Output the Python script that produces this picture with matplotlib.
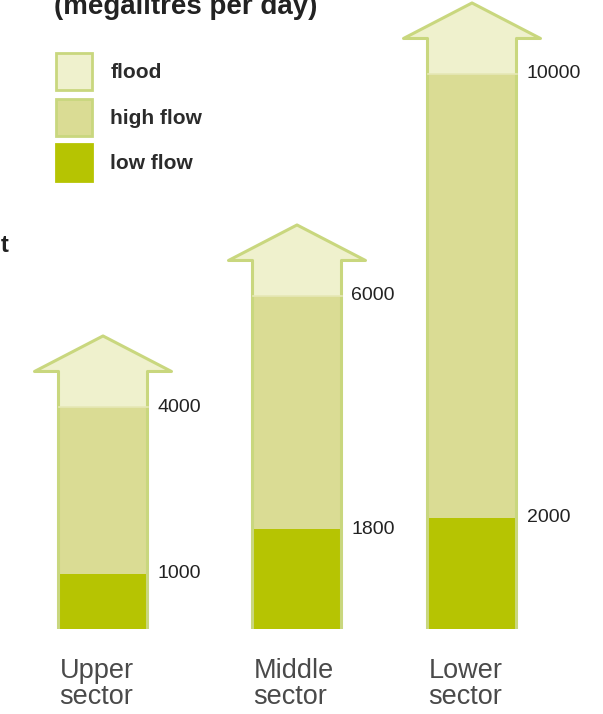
import matplotlib.pyplot as plt
from matplotlib.patches import Polygon, Patch

# data (megalitres per day)
sectors = ['Upper\nsector', 'Middle\nsector', 'Lower\nsector']
low_flow = [1000, 1800, 2000]
high_flow = [4000, 6000, 10000]
legend_labels = ['flood', 'high flow', 'low flow']

# colours
c_low = '#b6c402'
c_high = '#dadc94'
c_flood = '#eff1cd'
c_edge = '#c9d77e'

# layout (pixels across, flow units up)
x_pos = [103, 297, 472]
shaft_w = 89
wing_w = 137
flood_ext = 640
head_h = 640
px_per_unit = 0.0555
base_px = 629

W, H = 603, 714
fig = plt.figure(figsize=(W / 100, H / 100), dpi=100, facecolor='white')
ax = fig.add_axes([0, 0, 1, 1])
ax.set_xlim(0, W)
ax.set_ylim(-(H - base_px) / px_per_unit, base_px / px_per_unit)
ax.axis('off')

font = 'Liberation Sans'

for x, lo, hi, name in zip(x_pos, low_flow, high_flow, sectors):
    top = hi + flood_ext
    ax.bar(x, lo, width=shaft_w, color=c_low, linewidth=0)
    ax.bar(x, hi - lo, bottom=lo, width=shaft_w, color=c_high, linewidth=0)
    ax.bar(x, flood_ext, bottom=hi, width=shaft_w, color=c_flood, linewidth=0)
    # arrow head
    head = Polygon([(x - wing_w / 2, top), (x + wing_w / 2, top), (x, top + head_h)],
                   closed=True, facecolor=c_flood, edgecolor='none')
    ax.add_patch(head)
    # outline of the whole arrow
    l, r = x - shaft_w / 2, x + shaft_w / 2
    outline = Polygon([(l, 0), (l, top), (x - wing_w / 2, top), (x, top + head_h),
                       (x + wing_w / 2, top), (r, top), (r, 0)],
                      closed=False, facecolor='none', edgecolor=c_edge, lw=2.2,
                      joinstyle='round')
    ax.add_patch(outline)
    ax.plot([l, r], [hi, hi], color='#e6e8b6', lw=1.2)
    # value labels
    for v in (lo, hi):
        ax.text(r + 10, v, str(v), ha='left', va='center', fontsize=14,
                family=font, color='#222222')
    ax.text(l + 1, -520, name, ha='left', va='top', fontsize=19.5,
            family=font, color='#4a4a4a', linespacing=1.02)

# legend
handles = [Patch(facecolor=c_flood, edgecolor=c_edge, lw=2),
           Patch(facecolor=c_high, edgecolor=c_edge, lw=2),
           Patch(facecolor=c_low, edgecolor=c_low, lw=2)]
leg = ax.legend(handles, legend_labels, loc='upper left',
                bbox_to_anchor=(56 / W, 1 - 53 / H), bbox_transform=fig.transFigure,
                frameon=False, borderpad=0, borderaxespad=0,
                handlelength=1.75, handleheight=2.35, handletextpad=0.85,
                labelspacing=0.42, prop={'family': font, 'weight': 'bold', 'size': 15})
for t in leg.get_texts():
    t.set_color('#2b2b2b')

# title, cut off by the top edge
fig.text(54 / W, 1 - 14 / H, '(megalitres per day)', ha='left', va='baseline',
         fontsize=20, fontweight='bold', family=font, color='#222222')
# fragment of text cut off at the left edge
fig.text(9 / W, 1 - 245 / H, 't', ha='right', va='center', fontsize=17,
         fontweight='bold', family=font, color='#222222')

fig.savefig('out.png', dpi=100, facecolor='white')
